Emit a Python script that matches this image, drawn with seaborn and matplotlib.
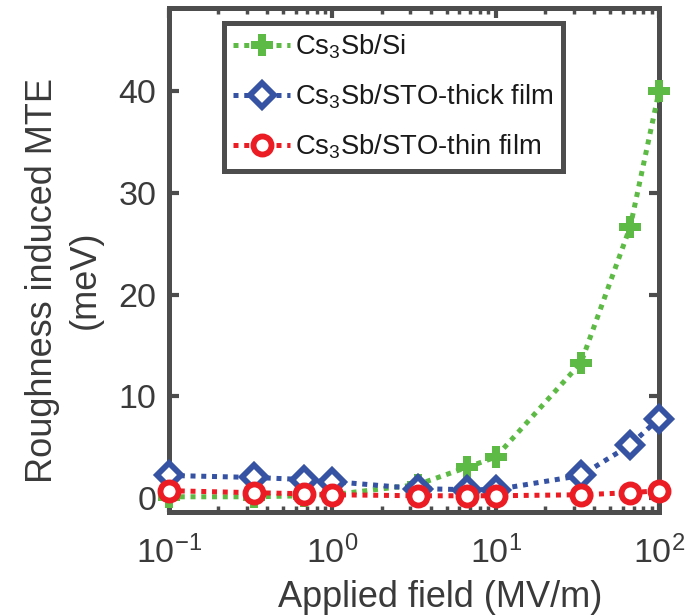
import matplotlib
matplotlib.use("Agg")
import matplotlib.pyplot as plt
import seaborn as sns
import numpy as np
import pandas as pd

# Applied field (MV/m)
field = [0.1, 0.333, 0.667, 1.0, 3.33, 6.67, 10.0, 33.3, 66.7, 100.0]
# Roughness induced MTE (meV)
mte_si = [0.1, 0.1, 0.2, 0.3, 1.3, 3.0, 4.0, 13.3, 26.7, 40.0]
mte_sto_thick = [2.2, 2.0, 1.8, 1.6, 0.9, 0.8, 0.8, 2.2, 5.2, 7.8]
mte_sto_thin = [0.7, 0.5, 0.4, 0.3, 0.2, 0.2, 0.2, 0.3, 0.5, 0.7]

labels = [r"Cs$_3$Sb/Si", r"Cs$_3$Sb/STO-thick film", r"Cs$_3$Sb/STO-thin film"]
x_ticks = [0.1, 1, 10, 100]
x_ticklabels = [r"10$^{-1}$", r"10$^{0}$", r"10$^{1}$", r"10$^{2}$"]
y_ticks = [0, 10, 20, 30, 40]

sns.set_theme(style="white")
plt.rcParams["font.family"] = ["Liberation Sans", "DejaVu Sans"]
plt.rcParams["mathtext.fontset"] = "custom"
plt.rcParams["mathtext.rm"] = "Liberation Sans"
plt.rcParams["mathtext.it"] = "Liberation Sans"
plt.rcParams["mathtext.default"] = "regular"

spine_c = "#4d4d4d"
text_c = "#3a3a3a"

fig = plt.figure(figsize=(6.95, 6.16), dpi=100)
ax = fig.add_axes([0.2432, 0.1688, 0.705, 0.818])

series = [
    (mte_si, "#5cba45", "P", dict(markersize=16, markerfacecolor="#5cba45", markeredgewidth=0)),
    (mte_sto_thick, "#3552a3", "D", dict(markersize=12, markerfacecolor="white", markeredgewidth=4.2)),
    (mte_sto_thin, "#ec1c24", "o", dict(markersize=13, markerfacecolor="white", markeredgewidth=4.2)),
]

for (vals, col, mk, mkw), lab in zip(series, labels):
    df = pd.DataFrame({"field": field, "mte": vals})
    sns.lineplot(data=df, x="field", y="mte", ax=ax, color=col, marker=mk,
                 markeredgecolor=col, linewidth=3.6, dashes=(1.0, 1.15),
                 dash_capstyle="butt", label=lab, clip_on=False, zorder=3, **mkw)

ax.set_xscale("log")
ax.set_xlim(0.1, 100)
ax.set_ylim(-1.4, 48.2)
ax.set_xticks(x_ticks)
ax.set_xticklabels(x_ticklabels)
ax.set_yticks(y_ticks)

for s in ax.spines.values():
    s.set_visible(True)
    s.set_color(spine_c)
    s.set_linewidth(3.6)

ax.tick_params(axis="both", which="major", direction="in", length=7, width=3,
               color=spine_c, labelsize=24.5, labelcolor=text_c,
               top=True, right=True, bottom=True, left=True)
ax.tick_params(axis="x", which="major", pad=17)
ax.tick_params(axis="y", which="major", pad=9)
ax.tick_params(axis="x", which="minor", direction="in", length=4, width=2.5,
               color=spine_c, top=True, bottom=True)
ax.tick_params(axis="y", which="minor", left=False, right=False)

ax.set_xlabel("Applied field (MV/m)", fontsize=26, color=text_c)
ax.xaxis.set_label_coords(0.553, -0.135)
ax.set_ylabel("Roughness induced MTE\n(meV)", fontsize=26, color=text_c,
              linespacing=1.3)
ax.yaxis.set_label_coords(-0.135, 0.46)

leg = ax.legend(loc="upper left", bbox_to_anchor=(0.112, 0.970), fontsize=19.7,
                frameon=True, fancybox=False, framealpha=1, edgecolor=spine_c,
                handlelength=2.05, handletextpad=0.2, borderpad=0.35,
                labelspacing=0.78, borderaxespad=0)
leg.get_frame().set_linewidth(3.6)
for t in leg.get_texts():
    t.set_color("#1a1a1a")

fig.savefig("out.png", dpi=100, facecolor="white")
